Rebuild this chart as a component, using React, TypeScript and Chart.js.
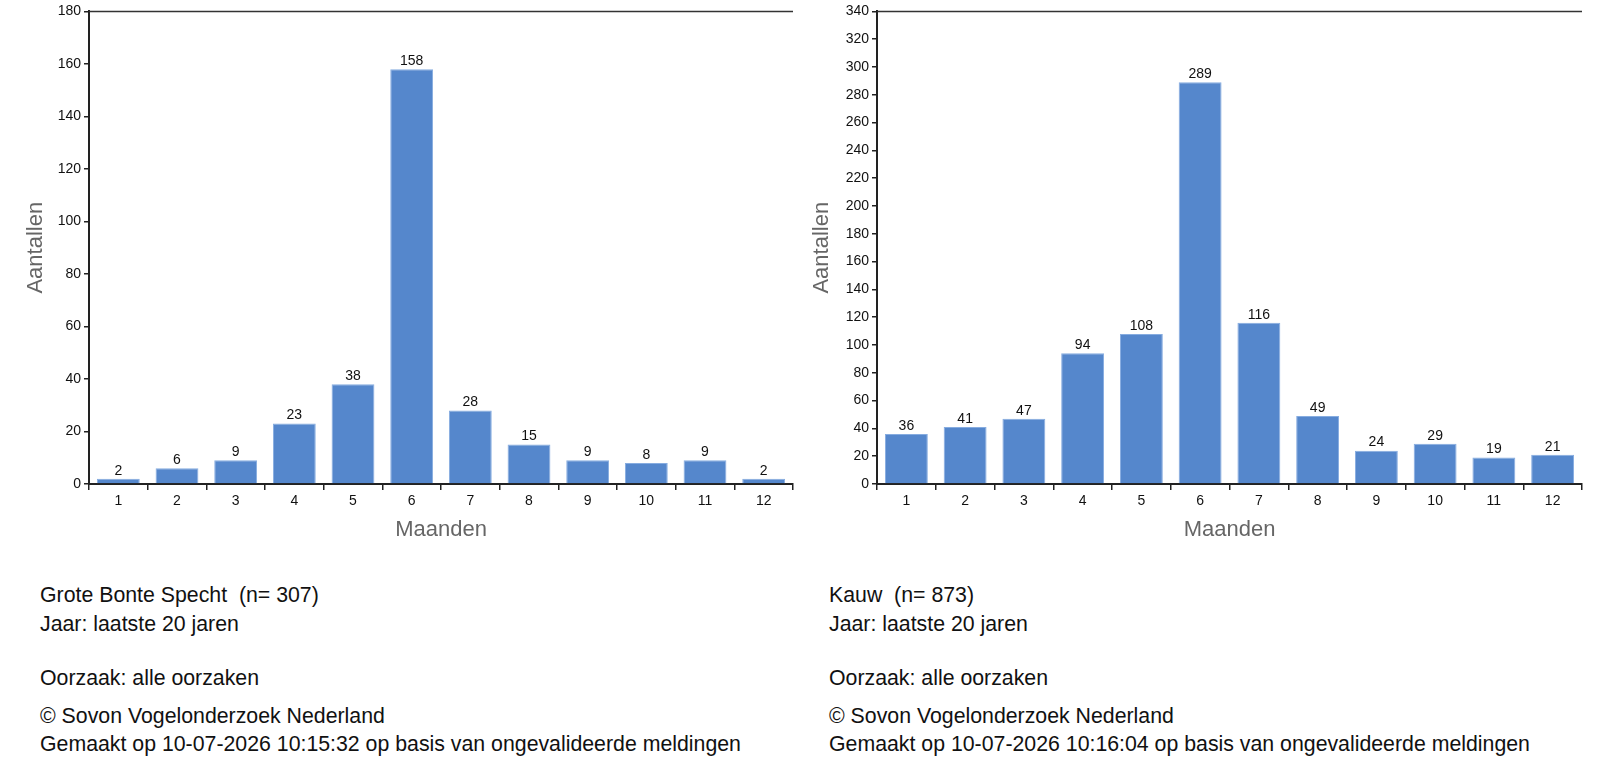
import React, { useEffect, useRef } from "react";
import { Chart, registerables } from "chart.js";

Chart.register(...registerables);

const months = ["1", "2", "3", "4", "5", "6", "7", "8", "9", "10", "11", "12"];
const spechtCounts = [2, 6, 9, 23, 38, 158, 28, 15, 9, 8, 9, 2];
const kauwCounts = [36, 41, 47, 94, 108, 289, 116, 49, 24, 29, 19, 21];
const spechtMax = 180;
const kauwMax = 340;

const spechtInfo = [
  "Grote Bonte Specht  (n= 307)",
  "Jaar: laatste 20 jaren",
  "Oorzaak: alle oorzaken",
  "© Sovon Vogelonderzoek Nederland",
  "Gemaakt op 10-07-2026 10:15:32 op basis van ongevalideerde meldingen",
];
const kauwInfo = [
  "Kauw  (n= 873)",
  "Jaar: laatste 20 jaren",
  "Oorzaak: alle oorzaken",
  "© Sovon Vogelonderzoek Nederland",
  "Gemaakt op 10-07-2026 10:16:04 op basis van ongevalideerde meldingen",
];

const FONT = "'Liberation Sans', Arial, sans-serif";

// Writes each bar's value just above it.
const valueLabels = {
  id: "valueLabels",
  afterDatasetsDraw(chart: any) {
    const ctx = chart.ctx;
    const meta = chart.getDatasetMeta(0);
    const data = chart.data.datasets[0].data as number[];
    ctx.save();
    ctx.font = `14px ${FONT}`;
    ctx.fillStyle = "#111";
    ctx.textAlign = "center";
    ctx.textBaseline = "bottom";
    meta.data.forEach((bar: any, i: number) => {
      ctx.fillText(String(data[i]), bar.x, bar.y - 1);
    });
    ctx.restore();
  },
};

// Closes the plot with a line along its top edge.
const topLine = {
  id: "topLine",
  afterDraw(chart: any) {
    const { ctx, chartArea } = chart;
    ctx.save();
    ctx.strokeStyle = "#333";
    ctx.lineWidth = 1.5;
    ctx.beginPath();
    ctx.moveTo(chartArea.left, chartArea.top);
    ctx.lineTo(chartArea.right, chartArea.top);
    ctx.stroke();
    ctx.restore();
  },
};

type BarProps = {
  values: number[];
  max: number;
  yWidth: number;
  yTitlePad: number;
  padRight: number;
  width: number;
  height: number;
};

function MonthBars({ values, max, yWidth, yTitlePad, padRight, width, height }: BarProps) {
  const ref = useRef<HTMLCanvasElement | null>(null);
  useEffect(() => {
    if (!ref.current) return;
    const chart = new Chart(ref.current, {
      type: "bar",
      data: {
        labels: months,
        datasets: [
          {
            data: values,
            backgroundColor: "#5587cc",
            borderColor: "#86ace0",
            borderWidth: 1,
            barPercentage: 0.73,
            categoryPercentage: 1,
          },
        ],
      },
      options: {
        responsive: false,
        animation: false,
        layout: { padding: { top: 9, right: padRight, left: 0, bottom: 0 } },
        plugins: { legend: { display: false }, tooltip: { enabled: false } },
        scales: {
          x: {
            offset: true,
            grid: { display: true, drawOnChartArea: false, drawTicks: true, tickLength: 6, color: "#222", lineWidth: 1.5 },
            border: { display: true, color: "#222", width: 2 },
            ticks: { color: "#111", font: { family: FONT, size: 14 }, padding: 3, maxRotation: 0 },
            title: {
              display: true,
              text: "Maanden",
              color: "#666",
              font: { family: FONT, size: 22 },
              padding: 2,
            },
            afterFit(scale: any) {
              scale.height = 61;
            },
          },
          y: {
            min: 0,
            max: max,
            grid: { display: true, drawOnChartArea: false, drawTicks: true, tickLength: 5, color: "#222", lineWidth: 1.5 },
            border: { display: true, color: "#222", width: 2 },
            ticks: { stepSize: 20, color: "#111", font: { family: FONT, size: 14 }, padding: 3 },
            title: {
              display: true,
              text: "Aantallen",
              color: "#666",
              font: { family: FONT, size: 22 },
              padding: yTitlePad,
            },
            afterFit(scale: any) {
              scale.width = yWidth;
            },
          },
        },
      },
      plugins: [valueLabels, topLine],
    });
    return () => chart.destroy();
  }, []);
  return <canvas ref={ref} width={width} height={height} style={{ display: "block" }} />;
}

const lineTops = [583, 612, 666, 704, 732];

function InfoBlock({ lines, left }: { lines: string[]; left: number }) {
  return (
    <>
      {lines.map((t, i) => (
        <div
          key={i}
          style={{
            position: "absolute",
            left,
            top: lineTops[i],
            fontFamily: FONT,
            fontSize: 21.3,
            lineHeight: "24px",
            color: "#111",
            whiteSpace: "pre",
          }}
        >
          {t}
        </div>
      ))}
    </>
  );
}

export default function App() {
  return (
    <div style={{ position: "absolute", left: 0, top: 0, width: 1602, height: 781, background: "#fff" }}>
      <div style={{ position: "absolute", left: 0, top: 0 }}>
        <MonthBars values={spechtCounts} max={spechtMax} yWidth={89} yTitlePad={23} padRight={7} width={800} height={545} />
      </div>
      <div style={{ position: "absolute", left: 800, top: 0 }}>
        <MonthBars values={kauwCounts} max={kauwMax} yWidth={77} yTitlePad={9} padRight={20} width={802} height={545} />
      </div>
      <InfoBlock lines={spechtInfo} left={40} />
      <InfoBlock lines={kauwInfo} left={829} />
    </div>
  );
}
